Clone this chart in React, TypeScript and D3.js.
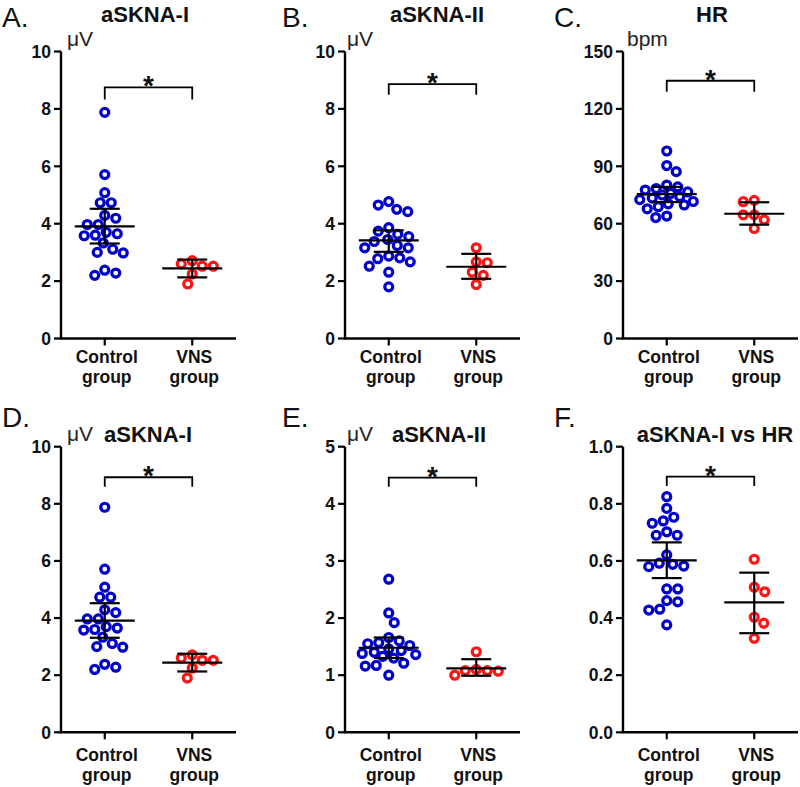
import React from "react";
import * as d3 from "d3";

// ---------- DATA ----------
const groups = ["Control", "VNS"];
const groupLine2 = "group";

const panelLetters = ["A.", "B.", "C.", "D.", "E.", "F."];
const panelTitles = ["aSKNA-I", "aSKNA-II", "HR", "aSKNA-I", "aSKNA-II", "aSKNA-I vs HR"];
const panelUnits = ["μV", "μV", "bpm", "μV", "μV", ""];
const yMaxes = [10, 10, 150, 10, 5, 1.0];
const yTickSteps = [2, 2, 30, 2, 1, 0.2];
const yTickFormats = ["d", "d", "d", "d", "d", ".1f"];

const sknaIControl = [7.88, 5.71, 5.08, 4.73, 4.73, 4.29, 4.19, 3.97, 3.97, 3.7, 3.65, 3.6, 3.58, 3.33, 3.11, 3.0, 2.98, 2.38, 2.28, 2.2];
const sknaIVNS = [2.71, 2.52, 2.52, 2.6, 2.25, 1.9];

const sknaIIControl = [4.77, 4.65, 4.5, 4.42, 3.86, 3.74, 3.63, 3.55, 3.45, 3.38, 3.24, 3.16, 3.16, 2.87, 2.81, 2.78, 2.67, 2.52, 2.31, 1.8];
const sknaIIVNS = [3.16, 2.67, 2.64, 2.31, 2.2, 1.88];

const hrControl = [98, 90.4, 87.2, 80.2, 79.2, 78.4, 77.6, 76.6, 75.8, 75, 74.2, 73.4, 72.6, 71.6, 70.4, 69.8, 68.9, 67.8, 64, 63.2];
const hrVNS = [72.2, 71.5, 64.6, 64.6, 62.0, 57.5];

const sknaIIbControl = [2.68, 2.09, 1.92, 1.66, 1.6, 1.57, 1.55, 1.52, 1.46, 1.43, 1.4, 1.38, 1.36, 1.33, 1.3, 1.21, 1.17, 1.16, 1.0];
const sknaIIbVNS = [1.41, 1.1, 1.08, 1.08, 1.07, 1.0];

const ratioControl = [0.825, 0.784, 0.753, 0.74, 0.732, 0.702, 0.69, 0.69, 0.621, 0.592, 0.588, 0.582, 0.58, 0.502, 0.502, 0.461, 0.457, 0.431, 0.428, 0.376];
const ratioVNS = [0.606, 0.508, 0.492, 0.403, 0.382, 0.329];

const controlSeries = [sknaIControl, sknaIIControl, hrControl, sknaIControl, sknaIIbControl, ratioControl];
const vnsSeries = [sknaIVNS, sknaIIVNS, hrVNS, sknaIVNS, sknaIIbVNS, ratioVNS];

// mean and 95% CI [control, vns]
const meanValues = [[3.91, 2.44], [3.42, 2.5], [75.5, 65.2], [3.91, 2.44], [1.48, 1.12], [0.602, 0.455]];
const ciLow = [[3.31, 2.13], [3.02, 2.08], [71.3, 59.5], [3.31, 2.13], [1.3, 0.99], [0.54, 0.347]];
const ciHigh = [[4.52, 2.75], [3.77, 2.95], [79.2, 71.2], [4.52, 2.75], [1.66, 1.28], [0.665, 0.559]];

const bracketTop = [8.75, 8.86, 134.7, 8.93, 4.46, 0.895];
const bracketDrop = [8.33, 8.49, 129, 8.6, 4.3, 0.862];
const sigLabel = "*";

// ---------- LAYOUT ----------
const W = 800, H = 787;
const colX = [61, 345, 623];
const axisLen = 175;
const rows = [
  { top: 51.5, zero: 338.5, letterY: 27, titleY: 22, unitY: 46, cat1: 24.5, cat2: 44 },
  { top: 446.7, zero: 732.3, letterY: 427, titleY: 442, unitY: 441, cat1: 28.5, cat2: 49 },
];
const letterX = [2, 282, 554];
const titleOffset = [84, 92, 89, 87, 94, 92];
const unitOffset = [6, 2, 4, 6, 2, 0];
const FONT = "'Liberation Sans', Arial, Helvetica, sans-serif";
const BLUE = "#0000c8";
const RED = "#ff1414";
const DOT_R = 4.0;
const DOT_SW = 3.2;
const MIN_DIST = 11;
const MAX_W = 27;

function swarm(values: number[], y: (v: number) => number, cx: number) {
  const order = values.map((_, i) => i).sort((a, b) => values[b] - values[a]);
  const placed: { x: number; y: number }[] = [];
  const out: { x: number; y: number }[] = new Array(values.length);
  const minD = (px: number, py: number) =>
    placed.reduce((m, p) => Math.min(m, Math.hypot(p.x - px, p.y - py)), Infinity);
  order.forEach((i, k) => {
    const py = y(values[i]);
    let best: number | null = null;
    outer: for (let d = 0; d <= MAX_W; d += 0.5) {
      const cands = k % 2 === 0 ? [d, -d] : [-d, d];
      for (const dx of cands) {
        if (minD(cx + dx, py) >= MIN_DIST) {
          best = dx;
          break outer;
        }
      }
    }
    if (best === null) {
      let bestScore = -1;
      for (let dx = -MAX_W; dx <= MAX_W; dx += 0.5) {
        const s = minD(cx + dx, py);
        if (s > bestScore) {
          bestScore = s;
          best = dx;
        }
      }
    }
    const pt = { x: cx + (best ?? 0), y: py };
    placed.push(pt);
    out[i] = pt;
  });
  return out;
}

function Panel({ idx }: { idx: number }) {
  const col = idx % 3;
  const row = rows[Math.floor(idx / 3)];
  const x0 = colX[col];
  const y = d3.scaleLinear().domain([0, yMaxes[idx]]).range([row.zero, row.top]);
  const x = d3.scalePoint<string>().domain(groups).range([x0, x0 + axisLen]).padding(0.5);
  const fmt = d3.format(yTickFormats[idx]);
  const ticks = d3.range(0, yMaxes[idx] + yTickSteps[idx] / 2, yTickSteps[idx]);
  const series = [controlSeries[idx], vnsSeries[idx]];
  const colors = [BLUE, RED];
  const xc = x(groups[0])!;
  const xv = x(groups[1])!;
  const bt = y(bracketTop[idx]);
  const bd = y(bracketDrop[idx]);

  return (
    <g>
      <text x={letterX[col]} y={row.letterY} fontSize={28} fontFamily={FONT} fill="#111">
        {panelLetters[idx]}
      </text>
      <text x={x0 + titleOffset[idx]} y={row.titleY} fontSize={22} fontWeight="bold" textAnchor="middle" fontFamily={FONT} fill="#111">
        {panelTitles[idx]}
      </text>
      {panelUnits[idx] && (
        <text x={x0 + unitOffset[idx]} y={row.unitY} fontSize={21} fontFamily={FONT} fill="#222">
          {panelUnits[idx]}
        </text>
      )}
      {/* axes */}
      <line x1={x0} x2={x0} y1={row.top} y2={row.zero} stroke="#000" strokeWidth={2.4} />
      <line x1={x0 - 1.2} x2={x0 + axisLen} y1={row.zero} y2={row.zero} stroke="#000" strokeWidth={2.4} />
      {ticks.map((t) => (
        <g key={t}>
          <line x1={x0 - 7} x2={x0} y1={y(t)} y2={y(t)} stroke="#000" strokeWidth={2.2} />
          <text x={x0 - 10} y={y(t)} dy="0.36em" textAnchor="end" fontSize={17.5} fontWeight="bold" fontFamily={FONT} fill="#111">
            {fmt(t)}
          </text>
        </g>
      ))}
      {groups.map((g) => (
        <g key={g}>
          <line x1={x(g)!} x2={x(g)!} y1={row.zero} y2={row.zero + 7} stroke="#000" strokeWidth={2.2} />
          <text x={x(g)! + 2} y={row.zero + row.cat1} textAnchor="middle" fontSize={17.5} fontWeight="bold" fontFamily={FONT} fill="#111">
            {g}
          </text>
          <text x={x(g)! + 2} y={row.zero + row.cat2} textAnchor="middle" fontSize={17.5} fontWeight="bold" fontFamily={FONT} fill="#111">
            {groupLine2}
          </text>
        </g>
      ))}
      {/* dots */}
      {series.map((vals, gi) =>
        swarm(vals, y, x(groups[gi])!).map((p, i) => (
          <circle key={gi + "-" + i} cx={p.x} cy={p.y} r={DOT_R} fill="none" stroke={colors[gi]} strokeWidth={DOT_SW} />
        ))
      )}
      {/* mean + CI */}
      {groups.map((g, gi) => {
        const cx = x(g)!;
        return (
          <g key={"e" + g} stroke="#000" strokeWidth={2.2}>
            <line x1={cx - 30} x2={cx + 30} y1={y(meanValues[idx][gi])} y2={y(meanValues[idx][gi])} />
            <line x1={cx} x2={cx} y1={y(ciLow[idx][gi])} y2={y(ciHigh[idx][gi])} />
            <line x1={cx - 15} x2={cx + 15} y1={y(ciLow[idx][gi])} y2={y(ciLow[idx][gi])} />
            <line x1={cx - 15} x2={cx + 15} y1={y(ciHigh[idx][gi])} y2={y(ciHigh[idx][gi])} />
          </g>
        );
      })}
      {/* significance bracket */}
      <path d={`M${xc},${bd}V${bt}H${xv}V${bd}`} fill="none" stroke="#000" strokeWidth={1.8} />
      <text x={(xc + xv) / 2} y={bt + 8} textAnchor="middle" fontSize={28} fontWeight="bold" fontFamily={FONT} fill="#111">
        {sigLabel}
      </text>
    </g>
  );
}

export default function App() {
  return (
    <svg width={W} height={H} style={{ position: "absolute", left: 0, top: 0, background: "#fff" }}>
      <rect width={W} height={H} fill="#fff" />
      {d3.range(6).map((i) => (
        <Panel key={i} idx={i} />
      ))}
    </svg>
  );
}
